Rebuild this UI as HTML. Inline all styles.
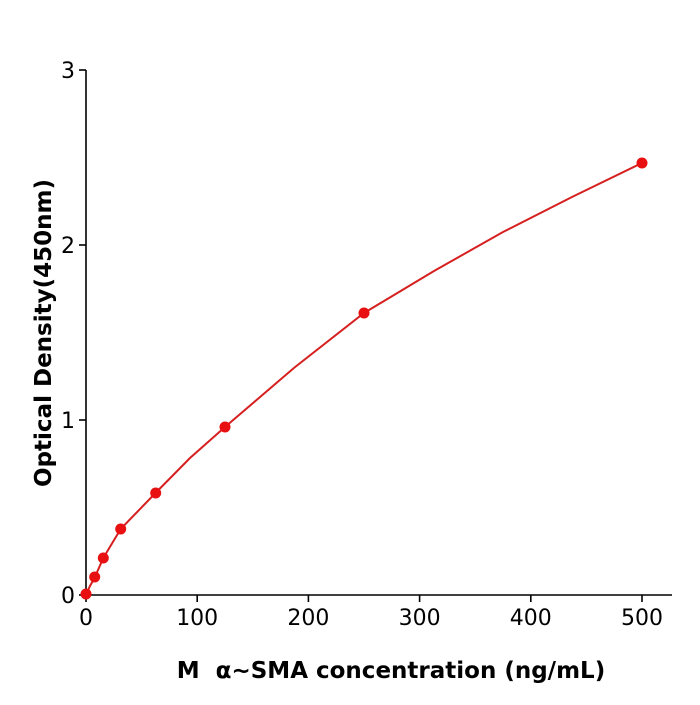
<!DOCTYPE html>
<html><head><style>body{margin:0;background:#fff}</style></head><body>
<svg width="700" height="700" xmlns="http://www.w3.org/2000/svg" font-family="DejaVu Sans, Liberation Sans, sans-serif">
<rect width="700" height="700" fill="#fff"/>
<g stroke="#000" stroke-width="1.6" fill="none">
<line x1="86" y1="70" x2="86" y2="595"/>
<line x1="86" y1="595" x2="672" y2="595"/>
<line x1="79" y1="595" x2="86" y2="595"/>
<line x1="79" y1="420" x2="86" y2="420"/>
<line x1="79" y1="245" x2="86" y2="245"/>
<line x1="79" y1="70" x2="86" y2="70"/>
<line x1="86" y1="595" x2="86" y2="602"/>
<line x1="197.2" y1="595" x2="197.2" y2="602"/>
<line x1="308.4" y1="595" x2="308.4" y2="602"/>
<line x1="419.6" y1="595" x2="419.6" y2="602"/>
<line x1="530.8" y1="595" x2="530.8" y2="602"/>
<line x1="642" y1="595" x2="642" y2="602"/>
</g>
<g font-size="22" text-anchor="end" fill="#000">
<text x="75" y="603">0</text><text x="75" y="428">1</text><text x="75" y="253">2</text><text x="75" y="78">3</text>
</g>
<g font-size="22" text-anchor="middle" fill="#000">
<text x="86" y="625">0</text><text x="197.2" y="625">100</text><text x="308.4" y="625">200</text><text x="419.6" y="625">300</text><text x="530.8" y="625">400</text><text x="642" y="625">500</text>
</g>
<text x="391" y="678" font-size="23" font-weight="bold" text-anchor="middle" xml:space="preserve">M  α~SMA concentration (ng/mL)</text>
<text transform="translate(51,333) rotate(-90)" font-size="23" font-weight="bold" text-anchor="middle">Optical Density(450nm)</text>
<polyline fill="none" stroke="#d62020" stroke-width="2" points="86,595 90,586 94.7,577.5 103.3,558 120.7,529 155.5,493 190,458 225,427 294.5,367.5 364,313 434,271 503,232 572,197 642,163"/>
<g fill="#e81010">
<circle cx="86" cy="594" r="5.5"/><circle cx="94.7" cy="577" r="5.5"/><circle cx="103.3" cy="558" r="5.5"/><circle cx="120.7" cy="529" r="5.5"/><circle cx="155.7" cy="493" r="5.5"/><circle cx="225" cy="427" r="5.5"/><circle cx="364" cy="313" r="5.5"/><circle cx="642" cy="163" r="5.5"/>
</g>
</svg>
</body></html>
